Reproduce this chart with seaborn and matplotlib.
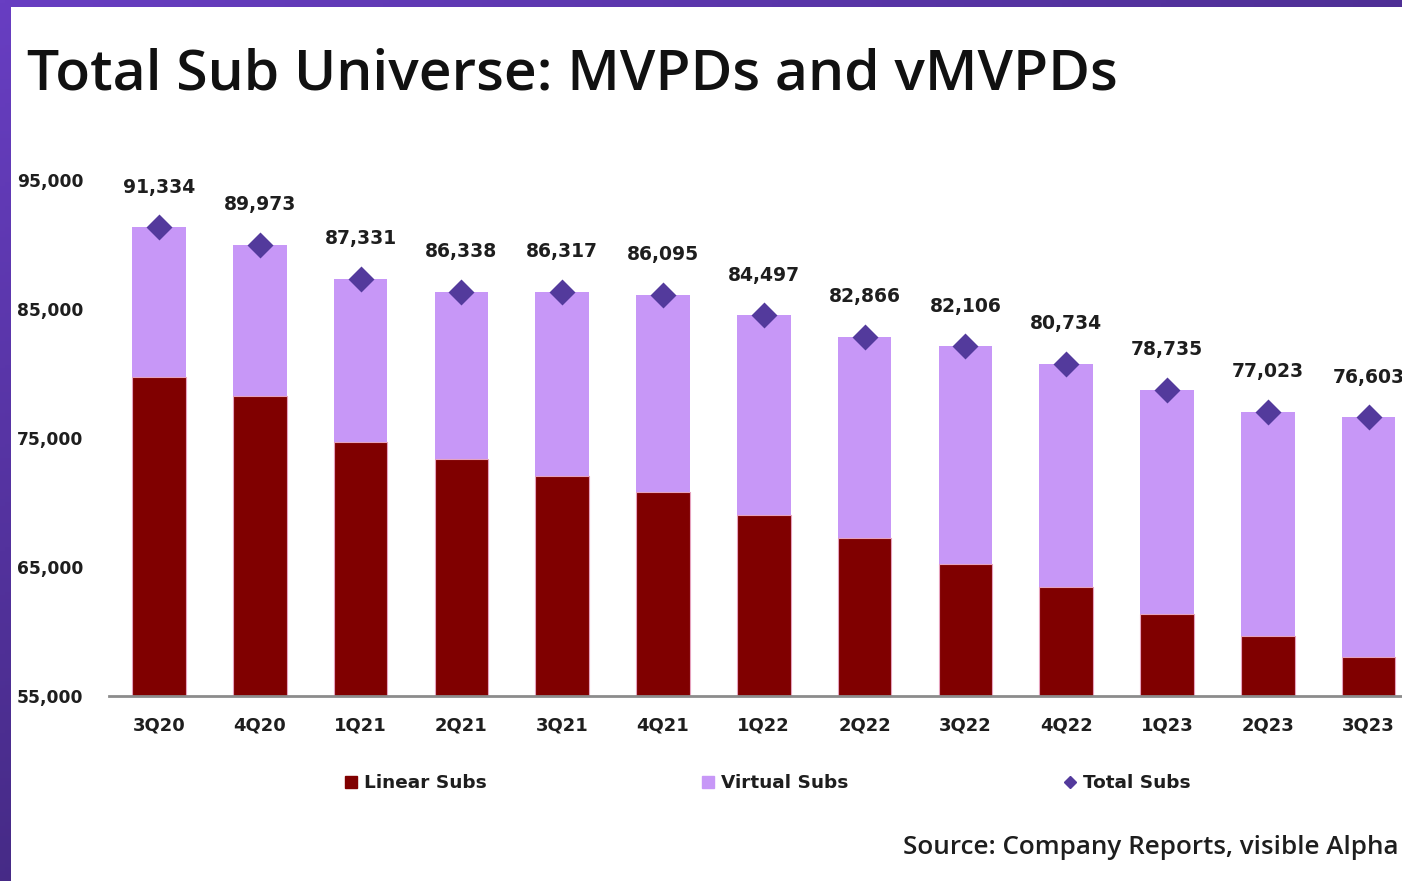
import numpy as np
import pandas as pd
import matplotlib
matplotlib.use("Agg")
import matplotlib.pyplot as plt
from matplotlib.patches import Rectangle
from matplotlib.lines import Line2D
import seaborn as sns

quarters = ["3Q20", "4Q20", "1Q21", "2Q21", "3Q21", "4Q21", "1Q22",
            "2Q22", "3Q22", "4Q22", "1Q23", "2Q23", "3Q23"]
total_subs = [91334, 89973, 87331, 86338, 86317, 86095, 84497,
              82866, 82106, 80734, 78735, 77023, 76603]
linear_subs = [79700, 78280, 74710, 73350, 72050, 70790, 69050,
               67250, 65210, 63430, 61330, 59650, 58000]
virtual_subs = [t - l for t, l in zip(total_subs, linear_subs)]
yticks = [55000, 65000, 75000, 85000, 95000]

df = pd.DataFrame({"quarter": quarters, "linear": linear_subs,
                   "virtual": virtual_subs, "total": total_subs})
df["stack_top"] = df["linear"] + df["virtual"]

sns.set_theme(style="white")
plt.rcParams["font.family"] = ["Open Sans", "DejaVu Sans"]
WIDE = ["DejaVu Sans"]

W, H = 1402, 881
fig = plt.figure(figsize=(W / 100, H / 100), dpi=100)

# purple frame gradient
bg = fig.add_axes([0, 0, 1, 1], zorder=-10)
gx = np.linspace(0, 1, 256)
gy = np.linspace(0, 1, 256)
GX, GY = np.meshgrid(gx, gy)
c_tl = np.array([0x68, 0x3E, 0xC2]) / 255
c_far = np.array([0x3E, 0x26, 0x78]) / 255
t = np.clip(0.6 * GX + 0.8 * GY, 0, 1)[..., None]
img = c_tl * (1 - t) + c_far * t
bg.imshow(img, extent=[0, 1, 0, 1], aspect="auto", origin="upper")
bg.add_patch(Rectangle((11 / W, 0), 1, 1 - 7 / H, transform=bg.transAxes,
                       facecolor="white", edgecolor="none"))
bg.set_xlim(0, 1)
bg.set_ylim(0, 1)
bg.axis("off")

# main axes in pixel terms
x_left_px = 108.6
step = 100.8
x_right_px = 159 + step * 12.5
y_top_px, y_bot_px = 180, 696
ax = fig.add_axes([x_left_px / W, 1 - y_bot_px / H,
                   (x_right_px - x_left_px) / W, (y_bot_px - y_top_px) / H])
ax.patch.set_alpha(0)

red = "#800000"
lilac = "#C797F7"
dia = "#533A9C"
ink = "#1E1E1E"

sns.barplot(data=df, x="quarter", y="stack_top", color=lilac, width=0.53,
            saturation=1, ax=ax, edgecolor="none", zorder=2)
sns.barplot(data=df, x="quarter", y="linear", color=red, width=0.53,
            saturation=1, ax=ax, edgecolor="#E6A2BE", linewidth=0.8, zorder=3)
sns.scatterplot(data=df, x="quarter", y="total", marker="D", s=175,
                color=dia, linewidth=0, ax=ax, zorder=5, legend=False)

for i, v in enumerate(total_subs):
    ax.annotate(f"{v:,}", (i, v), xytext=(0, 29), textcoords="offset points",
                ha="center", va="center", fontsize=13.5, fontweight="bold",
                family=WIDE, color=ink, annotation_clip=False)

ax.set_ylim(55000, 95000)
ax.set_xlim(-0.5, 12.5)
ax.set_yticks(yticks)
ax.set_yticklabels([f"{v:,}" for v in yticks], fontsize=12.3,
                   fontweight="bold", color=ink, ha="left", family=WIDE)
ax.tick_params(axis="y", length=0, pad=(x_left_px - 17) * 0.72)
ax.tick_params(axis="x", length=0, pad=15)
ax.set_xticks(range(len(quarters)))
ax.set_xticklabels(quarters, fontsize=13, fontweight="bold", color=ink,
                   family=WIDE)
ax.set_xlabel("")
ax.set_ylabel("")
for s in ["top", "right", "left"]:
    ax.spines[s].set_visible(False)
ax.spines["bottom"].set_color("#8C8C8C")
ax.spines["bottom"].set_linewidth(2)
ax.spines["bottom"].set_zorder(6)

fig.text(27 / W, 1 - 75 / H, "Total Sub Universe: MVPDs and vMVPDs",
         fontsize=41, color="#111111", ha="left", va="center",
         fontweight="semibold")

handles = [
    Line2D([], [], marker="s", linestyle="none", color=red, markersize=9),
    Line2D([], [], marker="s", linestyle="none", color=lilac, markersize=9),
    Line2D([], [], marker="D", linestyle="none", color=dia, markersize=6),
]
leg = fig.legend(handles, ["Linear Subs", "Virtual Subs", "Total Subs"],
                 loc="center left", bbox_to_anchor=(328 / W, 1 - 783 / H),
                 ncol=3, frameon=False, handlelength=0.7, handletextpad=0.35,
                 columnspacing=11.65,
                 prop={"weight": "bold", "size": 13.3, "family": WIDE})
for txt in leg.get_texts():
    txt.set_color(ink)

fig.text(903 / W, 1 - 847 / H, "Source: Company Reports, visible Alpha",
         fontsize=18.7, color=ink, ha="left", va="center",
         fontweight="semibold")

fig.savefig("out.png", dpi=100)
